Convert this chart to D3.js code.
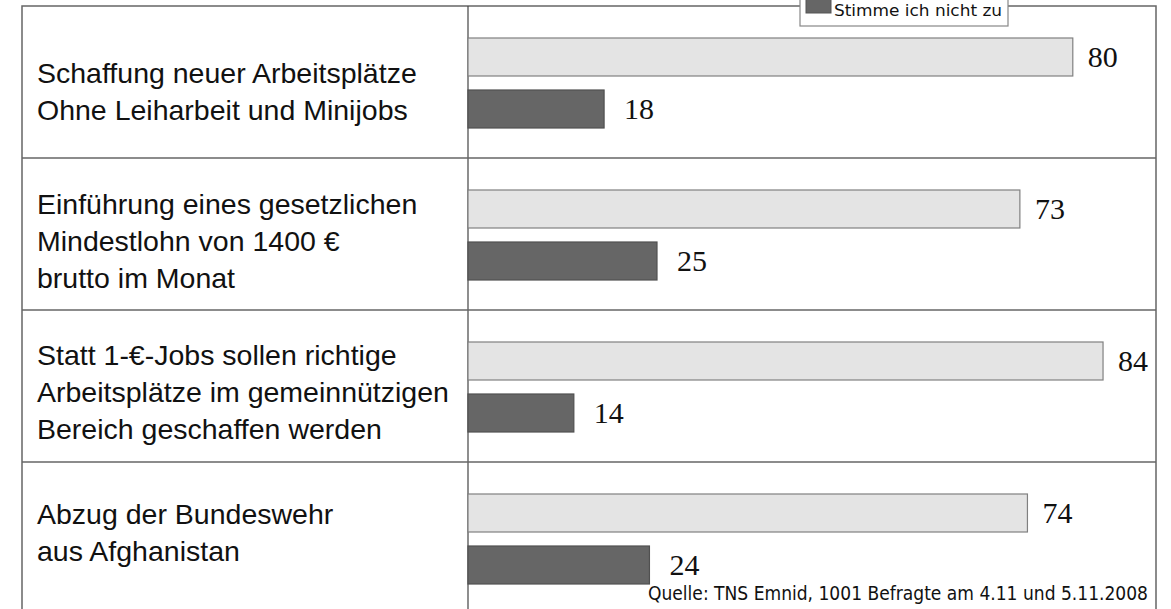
<!DOCTYPE html>
<html><head><meta charset="utf-8">
<script src="https://cdn.jsdelivr.net/npm/d3@7"></script>
<style>html,body{margin:0;padding:0;background:#fff;overflow:hidden}</style>
</head><body>
<svg id="c" width="1171" height="609"></svg>
<script>
const categories = [
  ["Schaffung neuer Arbeitsplätze", "Ohne Leiharbeit und Minijobs"],
  ["Einführung eines gesetzlichen", "Mindestlohn von 1400 €", "brutto im Monat"],
  ["Statt 1-€-Jobs sollen richtige", "Arbeitsplätze im gemeinnützigen", "Bereich geschaffen werden"],
  ["Abzug der Bundeswehr", "aus Afghanistan"]
];
const zustimmung = [80, 73, 84, 74];
const ablehnung = [18, 25, 14, 24];
const seriesNames = ["Stimme ich zu", "Stimme ich nicht zu"];
const source = "Quelle: TNS Emnid, 1001 Befragte am 4.11 und 5.11.2008";

const svg = d3.select("#c");
const frameL = 22, frameR = 1156, frameT = 6, divX = 468;
const rowH = 152;

const x = d3.scaleLinear().domain([0, 100]).range([divX, divX + 756]);
const y = d3.scaleBand().domain(d3.range(categories.length))
  .range([frameT, frameT + rowH * categories.length]).padding(0);

const lineC = "#666";
svg.append("path")
  .attr("d", `M${frameL},609 V${frameT} H${frameR} V609`)
  .attr("fill", "none").attr("stroke", lineC).attr("stroke-width", 1.5);
svg.append("line").attr("x1", divX).attr("x2", divX).attr("y1", frameT).attr("y2", 609)
  .attr("stroke", "#444").attr("stroke-width", 1.2);
svg.selectAll("line.sep").data(d3.range(1, categories.length)).join("line")
  .attr("class", "sep")
  .attr("x1", frameL).attr("x2", frameR)
  .attr("y1", i => y(i)).attr("y2", i => y(i))
  .attr("stroke", lineC).attr("stroke-width", 1.5);

const barH = 38, off1 = 32, off2 = 84;
const rows = svg.selectAll("g.row").data(categories).join("g").attr("class", "row");

rows.append("rect")
  .attr("x", x(0)).attr("y", (d, i) => y(i) + off1)
  .attr("width", (d, i) => x(zustimmung[i]) - x(0)).attr("height", barH)
  .attr("fill", "#e4e4e4").attr("stroke", "#808080").attr("stroke-width", 1.2);
rows.append("rect")
  .attr("x", x(0)).attr("y", (d, i) => y(i) + off2)
  .attr("width", (d, i) => x(ablehnung[i]) - x(0)).attr("height", barH)
  .attr("fill", "#666").attr("stroke", "#505050").attr("stroke-width", 1.2);

const valFont = "'Liberation Serif', 'DejaVu Serif', serif";
rows.append("text")
  .attr("x", (d, i) => x(zustimmung[i]) + 15).attr("y", (d, i) => y(i) + off1 + barH / 2 + 10)
  .attr("font-family", valFont).attr("font-size", 30).attr("fill", "#111")
  .text((d, i) => zustimmung[i]);
rows.append("text")
  .attr("x", (d, i) => x(ablehnung[i]) + 20).attr("y", (d, i) => y(i) + off2 + barH / 2 + 10)
  .attr("font-family", valFont).attr("font-size", 30).attr("fill", "#111")
  .text((d, i) => ablehnung[i]);

const lh = 37;
const shift = [9, 7, 6, -6];
rows.each(function (lines, i) {
  const g = d3.select(this);
  const cy = y(i) + y.bandwidth() / 2 + shift[i];
  const top = cy - (lines.length - 1) * lh / 2;
  lines.forEach((t, k) => {
    g.append("text").attr("x", 37).attr("y", top + k * lh + 10)
      .attr("font-family", "'Liberation Sans', Arial, sans-serif")
      .attr("font-size", 28.5).attr("fill", "#111").text(t);
  });
});

// legend (box partly above the top edge)
const lg = svg.append("g");
lg.append("rect").attr("x", 800).attr("y", -40).attr("width", 208).attr("height", 66)
  .attr("fill", "#fff").attr("stroke", "#888").attr("stroke-width", 1.2);
lg.append("rect").attr("x", 806).attr("y", -2).attr("width", 25).attr("height", 15)
  .attr("fill", "#666").attr("stroke", "#555");
lg.append("text").attr("x", 834).attr("y", 16)
  .attr("font-family", "'DejaVu Sans Condensed', 'Liberation Sans Narrow', sans-serif")
  .attr("font-stretch", "condensed")
  .attr("font-size", 16).attr("fill", "#111")
  .attr("textLength", 168).attr("lengthAdjust", "spacingAndGlyphs")
  .text(seriesNames[1]);

svg.append("text").attr("x", 1148).attr("y", 600).attr("text-anchor", "end")
  .attr("font-family", "'DejaVu Sans Condensed', 'Liberation Sans Narrow', sans-serif")
  .attr("font-stretch", "condensed")
  .attr("font-size", 19).attr("fill", "#111")
  .attr("textLength", 500).attr("lengthAdjust", "spacingAndGlyphs")
  .text(source);
</script>
</body></html>
